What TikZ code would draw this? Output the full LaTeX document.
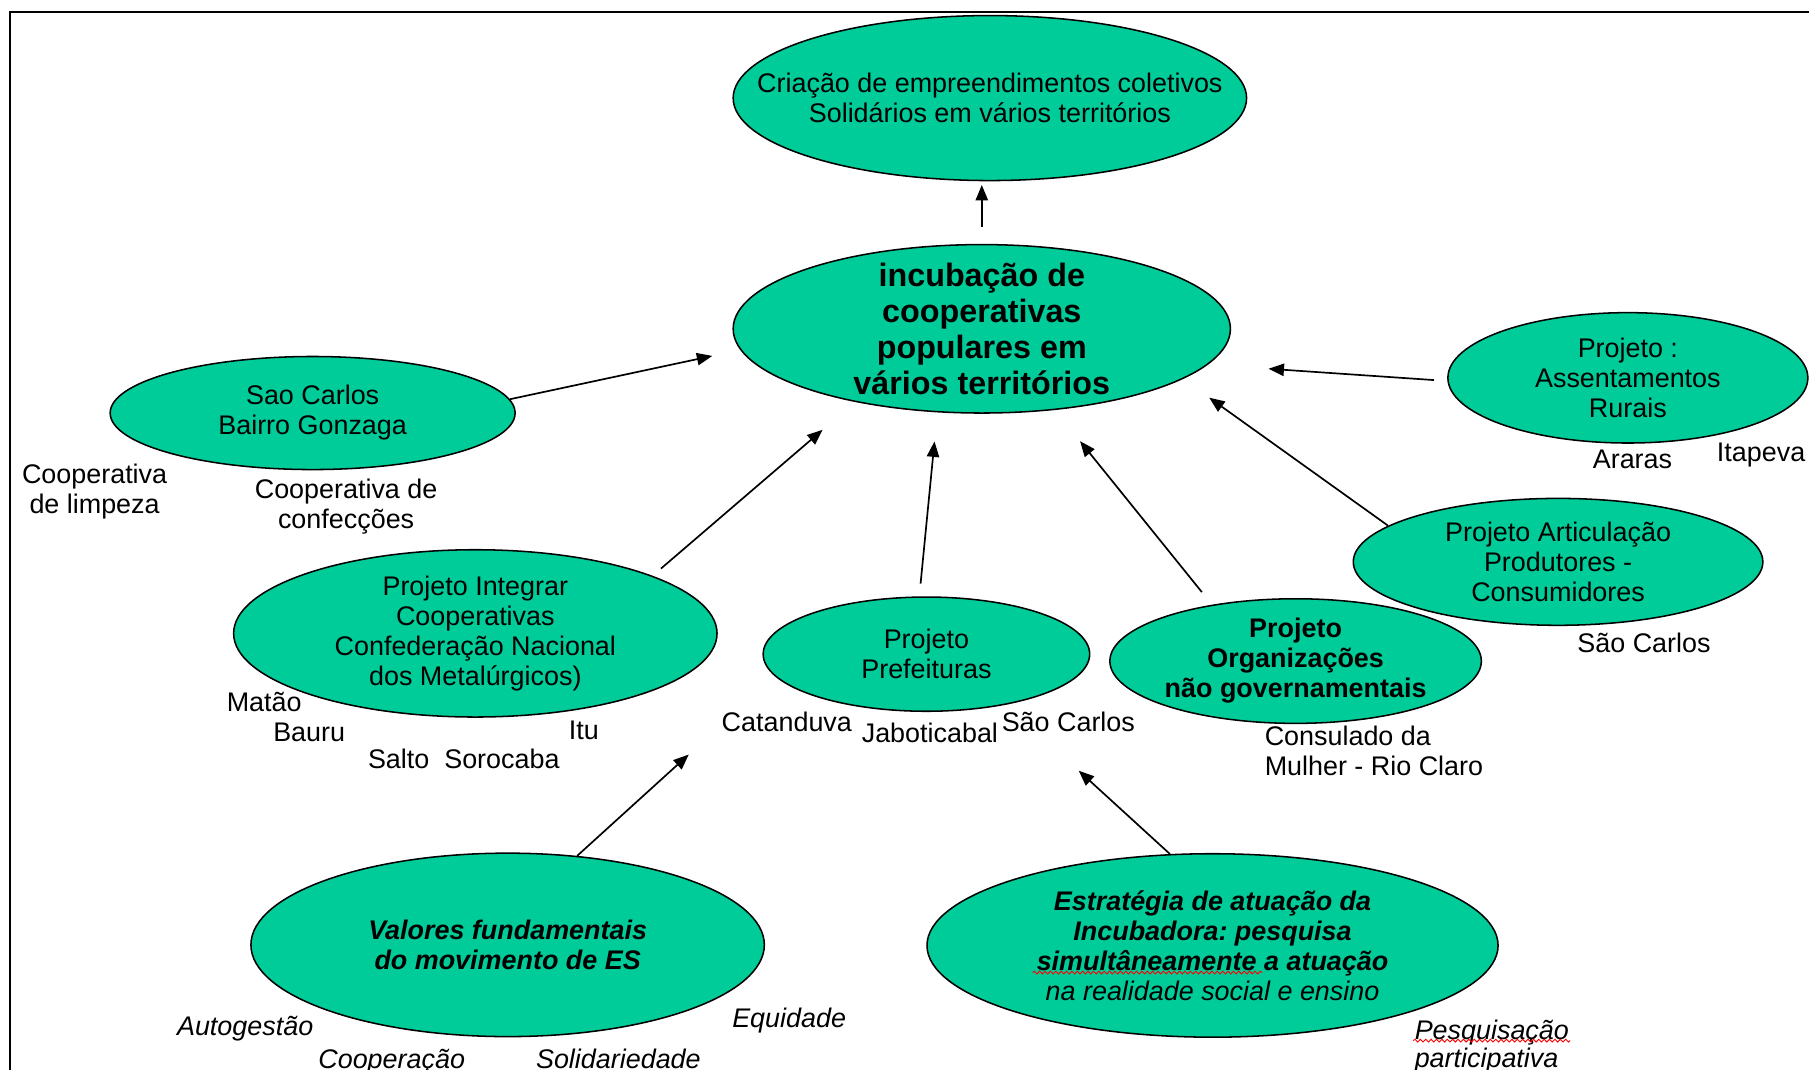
\documentclass[tikz,border=0pt]{standalone}
\usepackage{fontspec}
\setmainfont{Liberation Sans}
\usepackage{tikz}
\usetikzlibrary{shapes.geometric, arrows, arrows.meta, decorations.pathmorphing}
\frenchspacing
\definecolor{bubblegreen}{RGB}{0,204,153}
\tikzstyle{bubble} = [ellipse, draw, line width=1pt, fill=bubblegreen, align=center, inner xsep=-60pt, inner ysep=-20pt, font=\fontsize{17.5}{19.5}\selectfont]
\tikzstyle{arrow} = [line width=1.1pt, -{Triangle[length=10pt,width=8pt]}]
\tikzstyle{town} = [inner sep=0pt, align=center, font=\fontsize{17.5}{19.5}\selectfont]
\tikzstyle{virtue} = [town, font=\fontsize{17.5}{19.5}\selectfont\itshape]
\tikzstyle{spell} = [red, line width=0.6pt, decorate, decoration={snake, amplitude=0.9pt, segment length=3.5pt}]

\begin{document}
\begin{tikzpicture}[x=0.75pt, y=-0.75pt]
    \useasboundingbox (0,0) rectangle (1568,927);
    \draw[line width=1.3pt] (8.5,940) -- (8.5,10.5) -- (1580,10.5);

    \node[bubble, minimum width=333.75pt, minimum height=107.25pt] (top) at (858,85) {Criação de empreendimentos coletivos\\Solidários em vários territórios};
    \node[bubble, minimum width=323.25pt, minimum height=109.5pt, font=\fontsize{21}{23.5}\selectfont\bfseries] (inc) at (851,285) {incubação de\\cooperativas\\populares em\\vários territórios};
    \node[bubble, minimum width=263.25pt, minimum height=73.5pt] (sao) at (271,358) {Sao Carlos\\Bairro Gonzaga\vphantom{Ç}};
    \node[bubble, minimum width=234pt, minimum height=84.75pt] (assent) at (1411,327.5) {Projeto :\\Assentamentos\\Rurais};
    \node[bubble, minimum width=266.25pt, minimum height=82.5pt] (artic) at (1350.5,487) {Projeto Articulação\\Produtores -\\Consumidores};
    \node[bubble, minimum width=314.25pt, minimum height=108.75pt] (integ) at (412,549) {Projeto Integrar\\Cooperativas\\Confederação Nacional\\dos Metalúrgicos)};
    \node[bubble, minimum width=212.25pt, minimum height=74.25pt] (pref) at (803,567) {Projeto\\Prefeituras};
    \node[bubble, minimum width=241.5pt, minimum height=81pt, font=\fontsize{17.5}{19.5}\selectfont\bfseries] (ngo) at (1123,573) {Projeto\\Organizações\\não governamentais};
    \node[bubble, minimum width=333.75pt, minimum height=119.25pt, font=\fontsize{17.5}{19.5}\selectfont\bfseries\itshape] (val) at (440,819) {Valores fundamentais\\do movimento de ES};
    \node[bubble, minimum width=371.25pt, minimum height=119.25pt, font=\fontsize{17.5}{19.5}\selectfont\bfseries\itshape] (estr) at (1051,819.5) {Estratégia de atuação da\\Incubadora: pesquisa\\simultâneamente a atuação\\{\mdseries na realidade social e ensino}};

    \node[town] (coopLimp) at (82,426) {Cooperativa\\de limpeza};
    \node[town] (coopConf) at (300,439) {Cooperativa de\\confecções};
    \node[town, anchor=base] (matao) at (229,617) {Matão};
    \node[town, anchor=base] (bauru) at (268,643) {Bauru};
    \node[town, anchor=base] (itu) at (506,641) {Itu};
    \node[town, anchor=base] (salto) at (402,666) {Salto~~Sorocaba};
    \node[town, anchor=base] (catand) at (682,634) {Catanduva};
    \node[town, anchor=base] (jabot) at (806,644) {Jaboticabal};
    \node[town, anchor=base] (saoA) at (926,634) {São Carlos};
    \node[town, anchor=west, align=left] (consul) at (1096,650.5) {Consulado da\\Mulher - Rio Claro};
    \node[town, anchor=base] (araras) at (1415,406) {Araras};
    \node[town, anchor=base] (itapeva) at (1526.5,400) {Itapeva};
    \node[town, anchor=base] (saoB) at (1425,566) {São Carlos};
    \node[virtue, anchor=base] (autog) at (212.5,897.5) {Autogestão};
    \node[virtue, anchor=base] (coopera) at (339.5,926) {Cooperação};
    \node[virtue, anchor=base] (solid) at (536,926) {Solidariedade};
    \node[virtue, anchor=base] (equid) at (684,891) {Equidade};
    \node[virtue, anchor=north west, align=left, font=\fontsize{17.5}{18}\selectfont\itshape] (pesq) at (1226,884) {Pesquisação\\participativa};

    \draw[spell] (895,843) -- (1094,843);
    \draw[spell] (1225,902) -- (1361,902);

    \coordinate (valTip) at (597,654);
    \coordinate (estrTip) at (935,668);

    \draw[arrow, shorten <=11.25pt, shorten >=2.4pt] (inc.north) -- (inc.north |- top.south);
    \draw[arrow, shorten >=18.6pt] (sao.4) -- (inc.185.9);
    \draw[arrow, shorten <=8.7pt, shorten >=39.5pt] (assent.181.8) -- (inc.-9.6);
    \draw[arrow, shorten >=20.9pt] (artic.168.7) -- (inc.-14.9);
    \draw[arrow, shorten <=7.2pt, shorten >=27.8pt] (integ.18.2) -- (inc.210.8);
    \draw[arrow, shorten <=8.3pt, shorten >=19pt] (pref.97.1) -- (inc.242.5);
    \draw[arrow, shorten <=10.5pt, shorten >=26pt] (ngo.146.8) -- (inc.-48.3);
    \draw[arrow] (val.52.8) -- (valTip);
    \draw[arrow] (estr.115) -- (estrTip);
\end{tikzpicture}
\end{document}
